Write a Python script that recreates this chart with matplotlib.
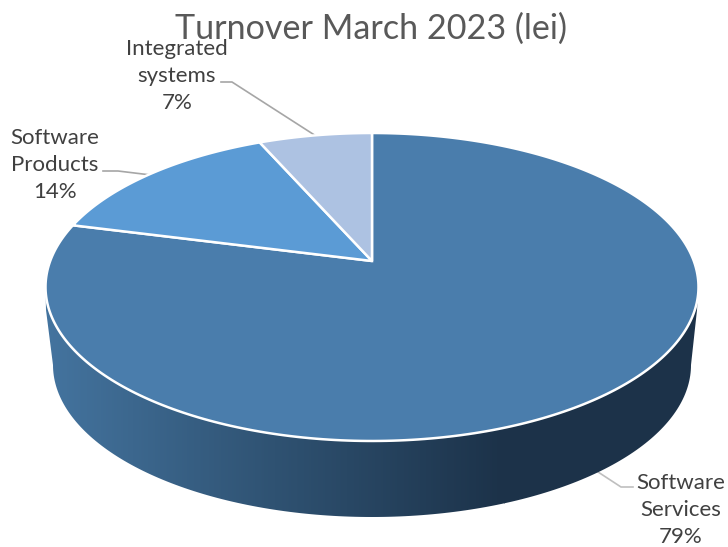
import numpy as np
import matplotlib
matplotlib.use('Agg')
import matplotlib.pyplot as plt
from matplotlib.colors import LinearSegmentedColormap
from matplotlib.patches import Polygon

title = "Turnover March 2023 (lei)"
names = ["Software\nServices", "Software\nProducts", "Integrated\nsystems"]
shares = [79.0, 14.4, 6.6]
pct_labels = ["79%", "14%", "7%"]
colors = ["#4a7dac", "#5b9bd5", "#adc2e2"]

plt.rcParams['font.family'] = ['Lato', 'DejaVu Sans']

# pie geometry, in pixels of the picture
cx, cy = 372, 261
persp = 0.1688
rx, ry = 321.8, 149.6


def project(theta):
    # theta is clockwise from the top, tilted circle seen in perspective
    u = np.sin(theta)
    v = np.cos(theta)
    k = 1 + persp * v
    return cx + rx * u / k, cy - ry * v / k


fig = plt.figure(figsize=(7.28, 5.47), dpi=100)
ax = fig.add_axes([0, 0, 1, 1])
ax.set_xlim(0, 728)
ax.set_ylim(547, 0)
ax.axis('off')

# side of the pie: top rim, then the smaller lower rim
t = np.linspace(0, 2 * np.pi, 721)
rim_x, rim_y = project(t)
front = rim_y > 287
order = np.argsort(rim_x[front])
front_x, front_y = rim_x[front][order], rim_y[front][order]

low_t = np.linspace(0, np.pi, 181)
low_x = 372 - 319 * np.cos(low_t)
low_y = 365 + 152 * np.sin(low_t)

side_xy = np.vstack([np.column_stack([front_x, front_y]),
                     [[697, 310]],
                     np.column_stack([low_x, low_y])[::-1],
                     [[46, 310]]])
side = Polygon(side_xy, closed=True, facecolor='none', edgecolor='none')
ax.add_patch(side)

side_cmap = LinearSegmentedColormap.from_list(
    'side', [(0, "#44749f"), (0.5, "#2f5272"), (1, "#1c3249")])
grad = np.linspace(0, 1, 460).reshape(1, -1)
img = ax.imshow(grad, cmap=side_cmap, extent=(45, 505, 547, 0), aspect='auto', zorder=2)
img.set_clip_path(side)
ax.fill_between([504, 700], 547, 0, color="#1c3249", lw=0, zorder=2).set_clip_path(side)
ax.set_xlim(0, 728)
ax.set_ylim(547, 0)

# top of the pie, clockwise from 12 o'clock
edges = np.cumsum([0] + shares) / sum(shares) * 2 * np.pi
for i in range(len(shares)):
    th = np.linspace(edges[i], edges[i + 1], 300)
    x, y = project(th)
    ax.fill(np.r_[cx, x], np.r_[cy, y], facecolor=colors[i], edgecolor='white',
            lw=1.8, joinstyle='miter', zorder=3)

# leader lines
ax.plot([221, 232, 316], [82, 82, 136], color="#a6a6a6", lw=1.2, zorder=1)
ax.plot([103, 118, 151], [171, 171, 175], color="#a6a6a6", lw=1.2, zorder=1)
ax.plot([595, 621, 633], [470, 487, 487], color="#bfbfbf", lw=1.2, zorder=1)

ax.text(371, 29, title, fontsize=24.6, color="#595959", ha='center', va='center', zorder=4)

label_pos = [(681, 510), (55, 165), (177, 76)]
for name, pct, (lx, ly) in zip(names, pct_labels, label_pos):
    ax.text(lx, ly, name + "\n" + pct, fontsize=16, color="#404040", ha='center',
            va='center', linespacing=1.45, zorder=5)

fig.savefig('out.png', dpi=100)
